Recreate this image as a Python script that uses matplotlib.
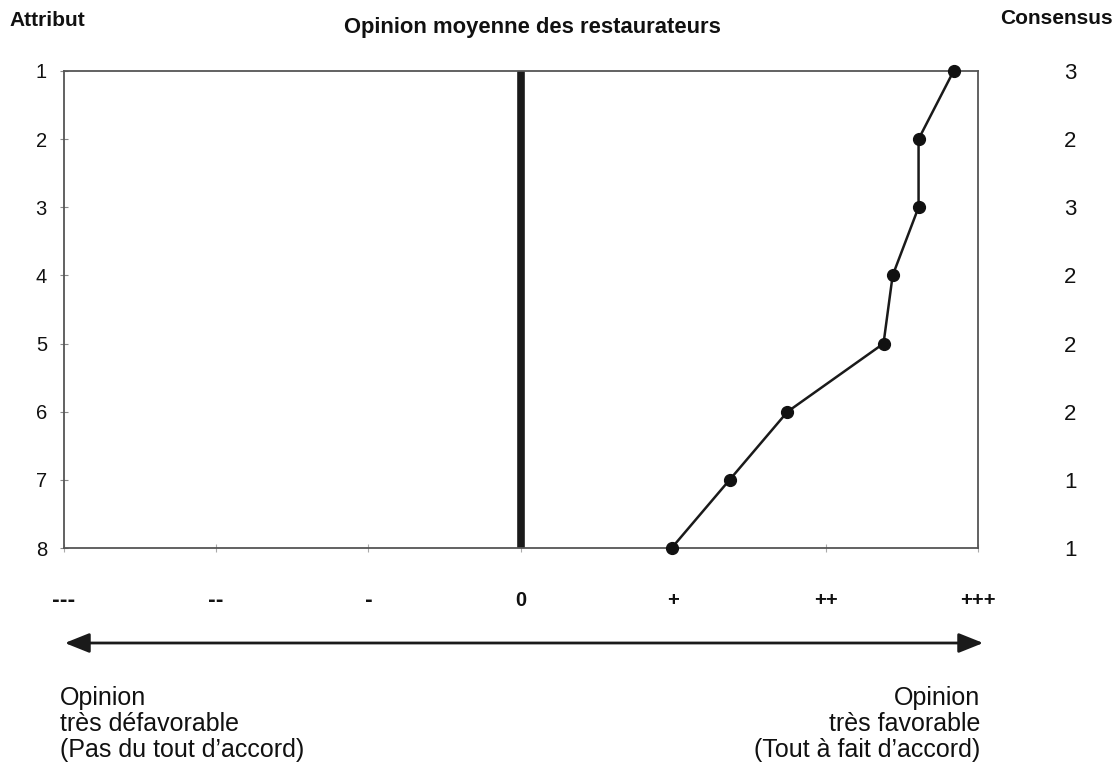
import matplotlib
matplotlib.use("Agg")
import matplotlib.pyplot as plt
from matplotlib.patches import FancyArrowPatch

# ---- data ----
attributes = [1, 2, 3, 4, 5, 6, 7, 8]
opinion = [2.84, 2.61, 2.61, 2.44, 2.38, 1.75, 1.37, 0.99]
consensus = [3, 2, 3, 2, 2, 2, 1, 1]
scale_values = [-3, -2, -1, 0, 1, 2, 3]
scale_labels = ["---", "--", "-", "0", "+", "++", "+++"]

plt.rcParams['font.family'] = ['Liberation Sans', 'DejaVu Sans']

W, H = 1116, 776
fig = plt.figure(figsize=(W / 100, H / 100), dpi=100)
fig.patch.set_facecolor('white')

left, right, top, bottom = 63.6, 978, 71, 548
ax = fig.add_axes([left / W, 1 - bottom / H, (right - left) / W, (bottom - top) / H])
ax.set_xlim(-3, 3)
ax.set_ylim(8, 1)

for s in ax.spines.values():
    s.set_color('#555555')
    s.set_linewidth(1.3)

ax.axvline(0, color='#1a1a1a', lw=5.5, zorder=2)
ax.plot(opinion, attributes, color='#1a1a1a', lw=1.8, marker='o',
        markersize=8.5, markerfacecolor='#111111', markeredgecolor='#111111',
        zorder=3, clip_on=False)

ax.set_yticks(attributes)
ax.set_yticklabels([str(a) for a in attributes], fontsize=14.5)
ax.tick_params(axis='y', direction='inout', length=6, color='#888888',
               pad=9, labelcolor='#111111')

ax.set_xticks(scale_values)
ax.set_xticklabels(scale_labels, fontsize=14.5, fontweight='bold')
for lab in ax.get_xticklabels():
    if '-' in lab.get_text():
        lab.set_family(['DejaVu Sans'])
        lab.set_fontsize(13.5)
ax.tick_params(axis='x', direction='inout', length=6, color='#aaaaaa',
               pad=28, labelcolor='#111111')

ax2 = ax.twinx()
ax2.set_ylim(8, 1)
ax2.set_yticks(attributes)
ax2.set_yticklabels([str(c) for c in consensus], fontsize=16)
ax2.tick_params(axis='y', length=0, pad=62, labelcolor='#111111')
for s in ax2.spines.values():
    s.set_visible(False)

# headers
fig.text(9 / W, 1 - 20 / H, "Attribut", fontsize=15, fontweight='bold',
         ha='left', va='center', color='#111111')
fig.text(532 / W, 1 - 28 / H, "Opinion moyenne des restaurateurs", fontsize=15.8,
         fontweight='bold', ha='center', va='center', color='#111111')
fig.text(1113 / W, 1 - 19 / H, "Consensus", fontsize=15, fontweight='bold',
         ha='right', va='center', color='#111111')

# double arrow
arrow = FancyArrowPatch((62, H - 643), (986, H - 643), transform=None,
                        arrowstyle='<|-|>,head_length=15,head_width=6',
                        mutation_scale=1, lw=2, color='#1a1a1a')
fig.add_artist(arrow)

fig.text(60 / W, 1 - 686 / H, "Opinion\ntrès défavorable\n(Pas du tout d’accord)",
         fontsize=18, ha='left', va='top', linespacing=1.1, color='#111111')
fig.text(980 / W, 1 - 686 / H, "Opinion\ntrès favorable\n(Tout à fait d’accord)",
         fontsize=18, ha='right', va='top', linespacing=1.1, color='#111111',
         multialignment='right')

fig.savefig("out.png", dpi=100, facecolor='white')
